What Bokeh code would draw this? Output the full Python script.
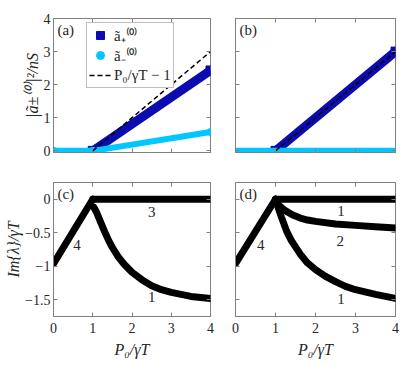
from bokeh.plotting import figure
from bokeh.layouts import gridplot
from bokeh.models import (Range1d, FixedTicker, LinearAxis, Label, Legend, LegendItem,
                          CustomLabelingPolicy)
from bokeh.embed import file_html
from bokeh.resources import INLINE

# ---------------- data ----------------
x_ticks = [0, 1, 2, 3, 4]
y_ticks_top = [0, 1, 2, 3, 4]
y_ticks_bot = [-1.5, -1.0, -0.5, 0.0]

# panel (a)
P_a = [0.0, 1.0, 4.0]
a_plus_a = [0.0, 0.0, 2.43]
a_minus_a = [0.0, 0.0, 0.57]
# panel (b)
P_b = [0.0, 1.0, 4.0]
a_plus_b = [0.0, 0.0, 3.0]
a_minus_b = [0.0, 0.0, 0.0]
# threshold line P0/gT - 1
thr_P = [1.0, 4.0]
thr_val = [0.0, 3.0]

# panel (c)
c4_P = [0.0, 1.0]
c4_val = [-0.96, 0.0]
c3_P = [1.0, 4.0]
c3_val = [0.0, 0.0]
c1_P = [1.03, 1.1, 1.2, 1.3, 1.4, 1.5, 1.65, 1.8, 2.0, 2.25, 2.5, 2.75, 3.0, 3.5, 4.0]
c1_val = [-0.12, -0.2, -0.34, -0.48, -0.61, -0.72, -0.86, -0.97, -1.09, -1.2, -1.29,
          -1.35, -1.39, -1.45, -1.48]

# panel (d)
d4_P = [0.0, 1.0]
d4_val = [-0.96, 0.0]
d1a_P = [1.0, 4.0]
d1a_val = [0.0, 0.0]
d2_P = [1.0, 1.05, 1.1, 1.2, 1.3, 1.45, 1.62, 1.8, 2.0, 2.5, 3.0, 3.5, 4.0]
d2_val = [0.0, -0.06, -0.1, -0.15, -0.19, -0.24, -0.28, -0.31, -0.33, -0.37, -0.39, -0.41, -0.43]
d1b_P = [1.0, 1.07, 1.15, 1.28, 1.4, 1.5, 1.62, 1.8, 2.0, 2.25, 2.5, 2.75, 3.0, 3.5, 4.0]
d1b_val = [0.0, -0.13, -0.27, -0.48, -0.62, -0.71, -0.82, -0.95, -1.05, -1.15, -1.23, -1.3,
           -1.35, -1.42, -1.48]

# ---------------- style ----------------
DARK = "#0b0bb0"
LIGHT = "#00c8ff"
GRAY = "#808080"
FONT = "Liberation Serif"
TXT = "#262626"

NO_LABELS = "for (const i of indices) { indices.unset(i) } return indices"


def hide_labels(ax):
    ax.major_label_policy = CustomLabelingPolicy(code=NO_LABELS)
    ax.major_label_standoff = 0
    ax.major_label_text_font_size = "1px"


def style(p, yticks, show_x_labels, show_y_labels):
    p.title = None
    p.xgrid.visible = False
    p.ygrid.visible = False
    p.outline_line_color = GRAY
    p.outline_line_width = 1
    p.background_fill_color = "white"
    p.border_fill_color = "white"
    for ax, ticks, s1, s2 in ((p.below[0], x_ticks, 6, 5), (p.left[0], yticks, 3, 0)):
        ax.ticker = FixedTicker(ticks=ticks)
        ax.axis_line_color = GRAY
        ax.major_tick_line_color = GRAY
        ax.major_tick_in = 4
        ax.major_tick_out = 0
        ax.minor_tick_line_color = None
        ax.major_label_text_font = FONT
        ax.major_label_text_font_size = "14px"
        ax.major_label_text_color = TXT
        ax.major_label_standoff = s1
        ax.axis_label_text_font = FONT
        ax.axis_label_text_font_size = "16px"
        ax.axis_label_text_font_style = "italic"
        ax.axis_label_text_color = TXT
        ax.axis_label_standoff = s2
    if not show_x_labels:
        hide_labels(p.below[0])
    if not show_y_labels:
        hide_labels(p.left[0])
    # mirrored ticks on top and right
    for loc, ticks in (("above", x_ticks), ("right", yticks)):
        ax = LinearAxis(ticker=FixedTicker(ticks=ticks), axis_line_color=None,
                        major_tick_line_color=GRAY, major_tick_in=4, major_tick_out=0,
                        minor_tick_line_color=None)
        hide_labels(ax)
        p.add_layout(ax, loc)


def panel_label(p, text, x, y):
    p.add_layout(Label(x=x, y=y, text=text, text_font=FONT, text_font_size="15px",
                       text_color=TXT, text_baseline="top", text_align="left"))


def curve_label(p, text, x, y):
    p.add_layout(Label(x=x, y=y, text=text, text_font=FONT, text_font_size="15px",
                       text_color=TXT, text_baseline="middle", text_align="center"))


common = dict(output_backend="svg", toolbar_location=None, x_range=Range1d(0, 4))

# ---------- (a) ----------
pa = figure(frame_width=157, frame_height=134, y_range=Range1d(-0.05, 4),
            min_border_left=53, min_border_right=5, min_border_top=18, min_border_bottom=15,
            **common)
style(pa, y_ticks_top, False, True)
pa.left[0].axis_label = "|ã±⁽⁰⁾|²/nS"
pa.line(P_a[1:], a_plus_a[1:], line_color=DARK, line_width=9)
lg_plus = pa.scatter(P_a[1:], a_plus_a[1:], marker="square", size=9,
                     fill_color=DARK, line_color=DARK)
pa.line(P_a, a_minus_a, line_color=LIGHT, line_width=6, line_cap="round")
lg_minus = pa.scatter(P_a, a_minus_a, marker="circle", size=7,
                      fill_color=LIGHT, line_color=LIGHT)
lg_thr = pa.line(thr_P, thr_val, line_color="black", line_width=1.5, line_dash="5 3")
legend = Legend(items=[LegendItem(label="ã₊⁽⁰⁾", renderers=[lg_plus]),
                       LegendItem(label="ã₋⁽⁰⁾", renderers=[lg_minus]),
                       LegendItem(label="P₀/γT − 1", renderers=[lg_thr])],
                location=(33, 64), label_text_font=FONT, label_text_font_size="15px",
                label_text_color=TXT,
                border_line_color=GRAY, background_fill_alpha=1.0,
                padding=2, spacing=0, margin=0, glyph_width=22, glyph_height=20,
                label_height=20, label_standoff=3)
pa.add_layout(legend)
panel_label(pa, "(a)", 0.1, 3.88)

# ---------- (b) ----------
pb = figure(frame_width=160, frame_height=134, y_range=Range1d(-0.05, 4),
            min_border_left=20, min_border_right=15, min_border_top=18, min_border_bottom=15,
            **common)
style(pb, y_ticks_top, False, False)
pb.line(P_b[1:], a_plus_b[1:], line_color=DARK, line_width=9)
pb.scatter(P_b[1:], a_plus_b[1:], marker="square", size=9, fill_color=DARK, line_color=DARK)
pb.line(P_b, a_minus_b, line_color=LIGHT, line_width=6, line_cap="round")
pb.line(thr_P, thr_val, line_color="black", line_width=1.5, line_dash="5 3")
panel_label(pb, "(b)", 0.1, 3.88)

# ---------- (c) ----------
pc = figure(frame_width=157, frame_height=134, y_range=Range1d(-1.75, 0.25),
            min_border_left=53, min_border_right=5, min_border_top=15, min_border_bottom=44,
            **common)
style(pc, y_ticks_bot, True, True)
pc.below[0].axis_label = "P₀/γT"
pc.left[0].axis_label = "Im{λ}/γT"
for xs, ys in ((c4_P, c4_val), (c3_P, c3_val), (c1_P, c1_val)):
    pc.line(xs, ys, line_color="black", line_width=7, line_cap="round", line_join="round")
panel_label(pc, "(c)", 0.1, 0.2)
curve_label(pc, "3", 2.5, -0.19)
curve_label(pc, "4", 0.6, -0.69)
curve_label(pc, "1", 2.5, -1.46)

# ---------- (d) ----------
pd = figure(frame_width=160, frame_height=134, y_range=Range1d(-1.75, 0.25),
            min_border_left=20, min_border_right=15, min_border_top=15, min_border_bottom=44,
            **common)
style(pd, y_ticks_bot, True, False)
pd.below[0].axis_label = "P₀/γT"
for xs, ys in ((d4_P, d4_val), (d1a_P, d1a_val), (d2_P, d2_val), (d1b_P, d1b_val)):
    pd.line(xs, ys, line_color="black", line_width=7, line_cap="round", line_join="round")
panel_label(pd, "(d)", 0.1, 0.2)
curve_label(pd, "1", 2.64, -0.18)
curve_label(pd, "2", 2.62, -0.63)
curve_label(pd, "4", 0.63, -0.69)
curve_label(pd, "1", 2.64, -1.49)

grid = gridplot([[pa, pb], [pc, pd]], toolbar_location=None)

open("out.html", "w").write(file_html(grid, INLINE))
